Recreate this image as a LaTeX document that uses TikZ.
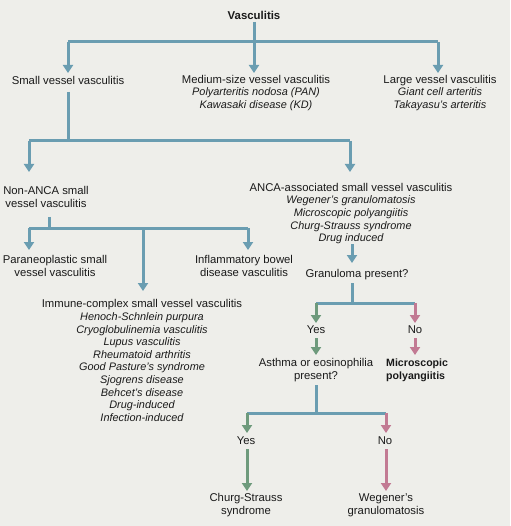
\documentclass[tikz,border=0pt]{standalone}
\usepackage{fontspec}
\setmainfont{Liberation Sans}
\usetikzlibrary{arrows.meta}
\definecolor{bg}{HTML}{EEEEEA}
\definecolor{lblue}{HTML}{6A9DB1}
\definecolor{lgreen}{HTML}{6E9A7C}
\definecolor{lpink}{HTML}{C27A93}
\definecolor{ink}{HTML}{1A1A1A}
\newcommand{\ilin}[1]{{\fontsize{10.9}{12.6}\selectfont\itshape #1}}
\tikzset{
  txt/.style={inner sep=0pt, align=center, text=ink, font=\fontsize{11.3}{12.6}\selectfont},
  conn/.style={draw=lblue, line width=3pt},
  arr/.style={conn, -{Triangle[width=10pt,length=8pt]}},
  garr/.style={arr, draw=lgreen, fill=lgreen},
  parr/.style={arr, draw=lpink, fill=lpink},
}
\begin{document}
\begin{tikzpicture}[x=1pt,y=-1pt]
\fill[bg] (0,0) rectangle (510,526);
\useasboundingbox (0,0) rectangle (510,526);

% nodes
\node[txt, font=\fontsize{11.4}{12.6}\selectfont\bfseries] (vasc) at (254,15) {Vasculitis};
\node[txt] (small) at (68,80) {Small vessel vasculitis};
\node[txt] (medium) at (256,93) {Medium-size vessel vasculitis\\ \ilin{Polyarteritis nodosa (PAN)}\\ \ilin{Kawasaki disease (KD)}};
\node[txt] (large) at (440,93) {Large vessel vasculitis\\ \ilin{Giant cell arteritis}\\ \ilin{Takayasu's arteritis}};
\node[txt] (nonanca) at (46,197) {Non-ANCA small\\ vessel vasculitis};
\node[txt] (anca) at (351,213.5) {ANCA-associated small vessel vasculitis\\ \ilin{Wegener's granulomatosis}\\ \ilin{Microscopic polyangiitis}\\ \ilin{Churg-Strauss syndrome}\\ \ilin{Drug induced}};
\node[txt] (para) at (55,266) {Paraneoplastic small\\ vessel vasculitis};
\node[txt] (ibd) at (244,266) {Inflammatory bowel\\ disease vasculitis};
\node[txt] (immune) at (142,360.5) {Immune-complex small vessel vasculitis\\ \ilin{Henoch-Schnlein purpura}\\ \ilin{Cryoglobulinemia vasculitis}\\ \ilin{Lupus vasculitis}\\ \ilin{Rheumatoid arthritis}\\ \ilin{Good Pasture's syndrome}\\ \ilin{Sjogrens disease}\\ \ilin{Behcet's disease}\\ \ilin{Drug-induced}\\ \ilin{Infection-induced}};
\node[txt] (gran) at (357,275) {Granuloma present?};
\node[txt] (yes1) at (316,330) {Yes};
\node[txt] (no1) at (415,330) {No};
\node[txt] (asthma) at (316,370) {Asthma or eosinophilia\\ present?};
\node[txt, align=left, anchor=west, font=\fontsize{10.6}{12.6}\selectfont\bfseries] (micro) at (386,370) {Microscopic\\ polyangiitis};
\node[txt] (yes2) at (246,441) {Yes};
\node[txt] (no2) at (385,441) {No};
\node[txt] (churg) at (246,505) {Churg-Strauss\\ syndrome};
\node[txt] (weg) at (386,505) {Wegener's\\ granulomatosis};

% junctions
\coordinate (j1) at (254,42);
\coordinate (j1l) at (68,42);
\coordinate (j1r) at (438,42);
\coordinate (j2) at (68,141);
\coordinate (j2l) at (29,141);
\coordinate (j2r) at (350,141);
\coordinate (j3) at (49,228);
\coordinate (j3l) at (29,228);
\coordinate (j3m) at (143,228);
\coordinate (j3r) at (248,228);
\coordinate (j4) at (352,303);
\coordinate (j4l) at (316,303);
\coordinate (j4r) at (415,303);
\coordinate (j5) at (316,413);
\coordinate (j5l) at (247,413);
\coordinate (j5r) at (386,413);

% level 1
\draw[conn] (254,22) -- (j1);
\draw[conn] (j1l) -- (j1r);
\draw[arr] (j1l) -- (68,73);
\draw[arr] (j1) -- (254,73);
\draw[arr] (j1r) -- (438,73);
% small -> level 2
\draw[conn] (68,92) -- (j2);
\draw[conn] (j2l) -- (j2r);
\draw[arr] (j2l) -- (29,172);
\draw[arr] (j2r) -- (350,172);
% non-ANCA
\draw[conn] (49,217) -- (j3);
\draw[conn] (j3l) -- (j3r);
\draw[arr] (j3l) -- (29,250);
\draw[arr] (j3r) -- (248,250);
\draw[arr] (j3m) -- (143,291);
% ANCA
\draw[arr] (352,244) -- (352,263);
\draw[conn] (352,283) -- (j4);
\draw[conn] (j4l) -- (j4r);
\draw[garr] (j4l) -- (316,323);
\draw[parr] (j4r) -- (415,323);
\draw[garr] (316,338) -- (316,355);
\draw[parr] (415,338) -- (415,355);
\draw[conn] (316,385) -- (j5);
\draw[conn] (j5l) -- (j5r);
\draw[garr] (j5l) -- (247,433);
\draw[parr] (j5r) -- (386,433);
\draw[garr] (247,449) -- (247,491);
\draw[parr] (386,449) -- (386,491);
\end{tikzpicture}
\end{document}
